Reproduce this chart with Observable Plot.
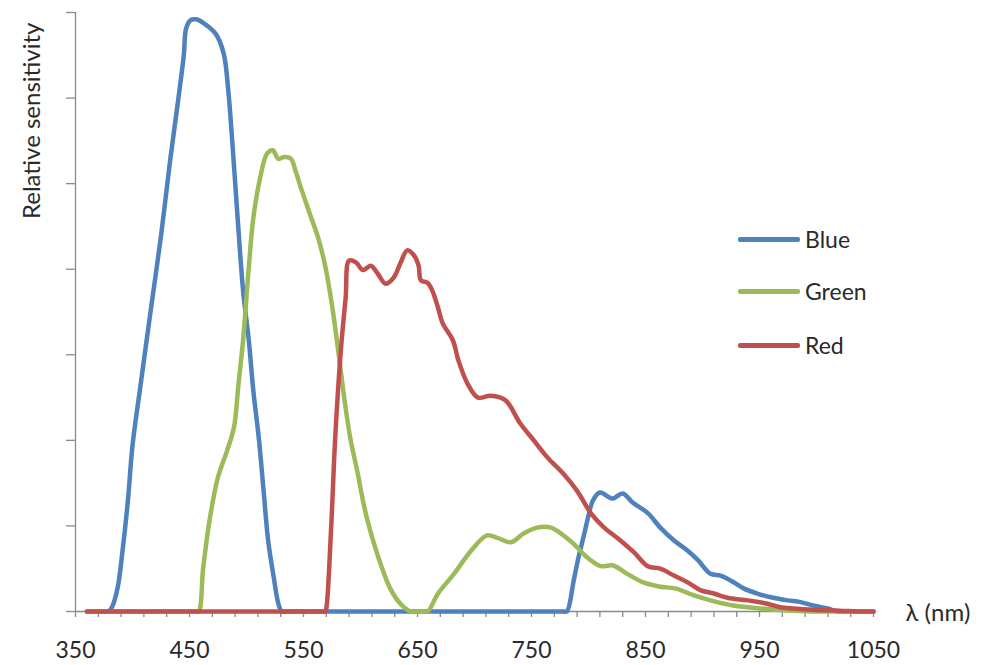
<!DOCTYPE html>
<html>
<head>
<meta charset="utf-8">
<script src="https://cdn.jsdelivr.net/npm/d3@7"></script>
<script src="https://cdn.jsdelivr.net/npm/@observablehq/plot@0.6"></script>
<style>
  html, body { margin: 0; padding: 0; background: #fff; }
  #wrap { position: relative; width: 998px; height: 665px; font-family: Lato, "Open Sans", sans-serif; }
  .leg { position: absolute; left: 738px; height: 30px; display: flex; align-items: center; }
  .leg .sw { width: 62px; height: 5px; border-radius: 2px; }
  .leg .lb { margin-left: 5px; font-size: 23px; color: #2a2a2a; }
</style>
</head>
<body>
<div id="wrap"></div>
<script>
// ---- data (wavelength in nm, relative sensitivity in arbitrary units) ----
const seriesNames = ["Blue", "Green", "Red"];
const seriesColors = ["#4F81BD", "#9BBB59", "#C0504D"];

const blueNm = [360,365,370,376,379,382,387,391,396,400,407,416,425,433,440,445,447,451,456,462,473,480,484,489,493,497,502,506,511,515,519,524,528,531,535,560,600,650,700,750,772,778,781,787,791,796,800,804,810,821,830,839,852,863,875,887,896,907,916,925,936,948,962,975,986,997,1010,1018,1024,1035,1045,1050];
const blueVal = [0,0,0,0,0,0.5,2.8,6.8,13.0,19.4,26.4,35.2,43.9,52.7,59.7,65.0,68.1,69.1,69.2,68.8,67.5,65.2,60.9,52.1,44.5,37.5,31.7,25.8,20.0,14.1,8.3,3.9,0.9,0,0,0,0,0,0,0,0,0,0,3.6,6.2,8.9,11.2,13.0,13.9,13.2,13.8,12.7,11.5,9.8,8.3,7.1,6.0,4.4,4.2,3.6,2.7,2.1,1.6,1.3,1.1,0.7,0.35,0,0,0,0,0];

const greenNm = [360,365,380,400,420,440,450,455,458,462,468,475,483,489,493,497,502,506,512,518,523,528,533,539,543,547,556,563,569,575,581,586,591,597,604,611,618,626,635,644,648,652,656,659,668,682,697,711,720,732,743,755,767,775,787,799,811,821,834,848,863,876,892,907,927,951,980,997,1005,1020,1035,1045,1050];
const greenVal = [0,0,0,0,0,0,0,0,0,5.1,11.0,15.7,18.8,21.5,26.6,31.7,40.2,46.0,50.7,53.5,53.9,52.9,53.1,52.9,51.5,49.8,46.3,43.6,40.4,35.8,29.9,24.7,20.3,16.5,11.8,8.3,5.4,2.7,0.9,0,0,0,0,0,2.1,4.4,7.1,8.9,8.6,8.1,9.1,9.8,9.8,9.2,7.9,6.3,5.3,5.4,4.4,3.4,2.9,2.7,1.9,1.3,0.7,0.35,0.1,0,0,0,0,0,0];

const redNm = [360,365,380,400,420,450,480,510,540,555,562,566,569,570,574,578,583,587,590,596,602,609,615,622,629,635,641,647,651,653,659,663,668,672,681,686,694,703,714,727,740,752,764,778,790,802,813,828,840,852,863,875,887,898,910,922,940,957,968,980,997,1020,1039,1044,1050];
const redVal = [0,0,0,0,0,0,0,0,0,0,0,0,0,0.35,9.1,20.8,30.9,36.7,41.0,40.8,39.9,40.4,39.5,38.3,39.0,40.7,42.2,41.6,40.4,38.7,38.4,37.5,35.5,33.7,31.7,29.3,26.6,25.0,25.2,24.7,22.0,20.0,18.0,16.1,14.1,11.5,9.9,8.3,6.9,5.3,5.0,4.2,3.4,2.5,2.1,1.6,1.3,0.9,0.5,0.35,0.2,0.1,0,0,0];

const xMajorTicks = [350,450,550,650,750,850,950,1050];
const xMinorTicks = d3.range(350, 1051, 20);
const yTicks = [0,10,20,30,40,50,60,70];
const yTitle = "Relative sensitivity";
const xTitle = "λ (nm)";

// ---- build tables ----
const toRows = (nm, val, name) => nm.map((n, i) => ({nm: n, v: val[i], series: name}));
const tables = [
  toRows(blueNm, blueVal, "Blue"),
  toRows(greenNm, greenVal, "Green"),
  toRows(redNm, redVal, "Red")
];

const axisGray = "#8a8a8a";
const textColor = "#2a2a2a";

const chart = Plot.plot({
  width: 998,
  height: 665,
  marginLeft: 75,
  marginRight: 125,
  marginTop: 12,
  marginBottom: 54,
  style: {fontFamily: "Lato, 'Open Sans', sans-serif", background: "#fff", overflow: "visible"},
  x: {domain: [350, 1050]},
  y: {domain: [0, 70]},
  marks: [
    Plot.axisY({ticks: yTicks, tickSize: 9, tickFormat: () => "", stroke: axisGray, strokeWidth: 1.3, label: null}),
    Plot.axisX({ticks: xMinorTicks, tickSize: 6, tickFormat: () => "", stroke: axisGray, strokeWidth: 1.3, label: null}),
    Plot.axisX({ticks: xMajorTicks, tickSize: 0, tickPadding: 30, fontSize: 23, fill: textColor, label: null, tickFormat: d => String(d)}),
    Plot.ruleX([350], {stroke: axisGray, strokeWidth: 1.3}),
    Plot.ruleY([0], {stroke: axisGray, strokeWidth: 1.3}),
    ...tables.map((rows, i) => Plot.line(rows, {
      x: "nm", y: "v", stroke: seriesColors[i], strokeWidth: 4.5,
      curve: "catmull-rom", strokeLinejoin: "round", strokeLinecap: "round"
    })),
    Plot.text([yTitle], {frameAnchor: "top-left", text: d => d, rotate: -90, textAnchor: "end",
      lineAnchor: "top", dx: -53, dy: 10, fontSize: 24, fill: textColor}),
    Plot.text([xTitle], {frameAnchor: "bottom-right", text: d => d, textAnchor: "start",
      lineAnchor: "middle", dx: 32, dy: 2, fontSize: 24, fill: textColor})
  ]
});

const wrap = document.getElementById("wrap");
wrap.appendChild(chart);

// legend overlay
const legendTops = [224, 276, 330];
seriesNames.forEach((name, i) => {
  const row = document.createElement("div");
  row.className = "leg";
  row.style.top = legendTops[i] + "px";
  const sw = document.createElement("div");
  sw.className = "sw";
  sw.style.background = seriesColors[i];
  const lb = document.createElement("span");
  lb.className = "lb";
  lb.textContent = name;
  row.appendChild(sw);
  row.appendChild(lb);
  wrap.appendChild(row);
});
</script>
</body>
</html>
